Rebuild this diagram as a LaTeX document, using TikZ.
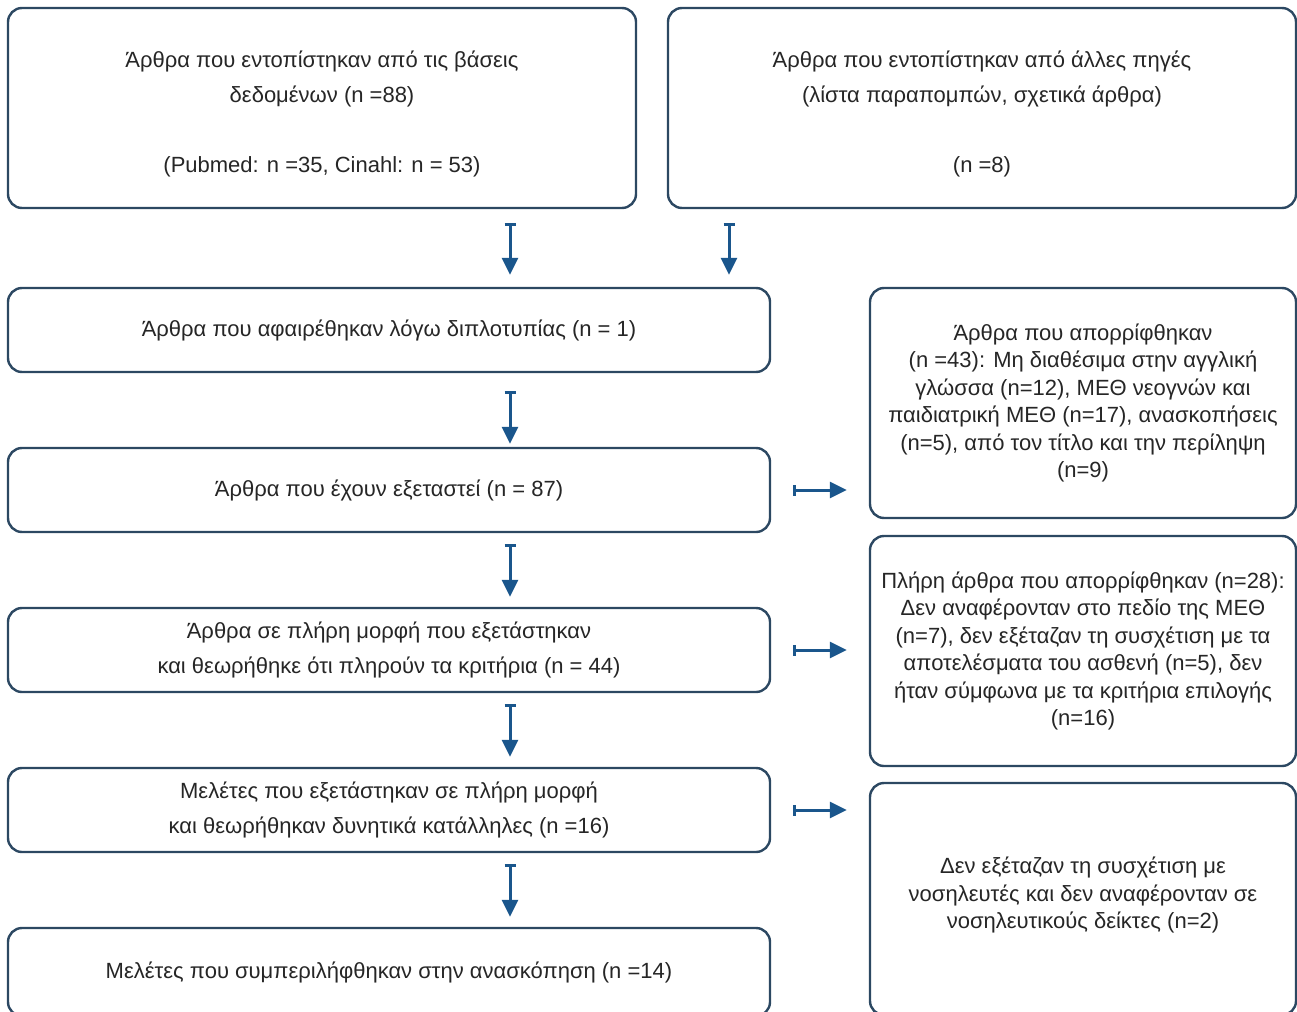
\documentclass[tikz,border=0pt]{standalone}
\usepackage{fontspec}
\setmainfont{Liberation Sans}
\usetikzlibrary{arrows.meta}
\definecolor{boxline}{RGB}{44,72,98}
\definecolor{arrowc}{RGB}{26,86,140}
\begin{document}
\begin{tikzpicture}[x=1pt,y=-1pt,
  box/.style={draw=boxline, line width=2.4pt, rounded corners=14pt, fill=white, inner sep=0pt, align=center, text=black!85},
  big/.style={font=\fontsize{22}{35}\selectfont},
  small/.style={font=\fontsize{22}{27.5}\selectfont},
  flow/.style={draw=arrowc, line width=3pt, {Bar[width=11pt,line width=2.4pt]}-{Triangle[width=16pt,length=17pt]}}]
\useasboundingbox (0,0) rectangle (1297,1011);
\clip (0,0) rectangle (1297,1011);
\coordinate (col1) at (510,0);
\coordinate (col2) at (729,0);
\node[box, big, minimum width=628, minimum height=200] (A) at (322,108)
  {Άρθρα που εντοπίστηκαν από τις βάσεις\\ δεδομένων (n =88)\\[35pt] (Pubmed: n =35, Cinahl: n = 53)\\[-43pt]};
\node[box, big, minimum width=628, minimum height=200] (B) at (982,108)
  {Άρθρα που εντοπίστηκαν από άλλες πηγές\\ (λίστα παραπομπών, σχετικά άρθρα)\\[35pt] (n =8)\\[-43pt]};
\node[box, big, minimum width=762, minimum height=84] (C) at (389,330)
  {Άρθρα που αφαιρέθηκαν λόγω διπλοτυπίας (n = 1)};
\node[box, big, minimum width=762, minimum height=84] (D) at (389,490)
  {Άρθρα που έχουν εξεταστεί (n = 87)};
\node[box, big, minimum width=762, minimum height=84] (F) at (389,650)
  {Άρθρα σε πλήρη μορφή που εξετάστηκαν\\ και θεωρήθηκε ότι πληρούν τα κριτήρια (n = 44)};
\node[box, big, minimum width=762, minimum height=84] (H) at (389,810)
  {Μελέτες που εξετάστηκαν σε πλήρη μορφή\\ και θεωρήθηκαν δυνητικά κατάλληλες (n =16)};
\node[box, big, minimum width=762, minimum height=88] (J) at (389,972)
  {Μελέτες που συμπεριλήφθηκαν στην ανασκόπηση (n =14)};
\node[box, small, minimum width=426, minimum height=230] (E) at (1083,403)
  {Άρθρα που απορρίφθηκαν\\ (n =43): Μη διαθέσιμα στην  αγγλική\\ γλώσσα (n=12), ΜΕΘ νεογνών και\\ παιδιατρική ΜΕΘ (n=17), ανασκοπήσεις\\ (n=5), από τον τίτλο και την περίληψη\\ (n=9)};
\node[box, small, minimum width=426, minimum height=230] (G) at (1083,651)
  {Πλήρη άρθρα που απορρίφθηκαν (n=28):\\ Δεν αναφέρονταν στο πεδίο της ΜΕΘ\\ (n=7), δεν εξέταζαν τη συσχέτιση με τα\\ αποτελέσματα του ασθενή (n=5), δεν\\ ήταν σύμφωνα με τα κριτήρια επιλογής\\ (n=16)};
\node[box, small, minimum width=426, minimum height=232] (I) at (1083,899)
  {Δεν εξέταζαν τη συσχέτιση με\\ νοσηλευτές και δεν αναφέρονταν σε\\ νοσηλευτικούς δείκτες (n=2)\\[-15pt]};
\draw[flow, shorten <=14, shorten >=12] (A.south -| col1) -- (C.north -| col1);
\draw[flow, shorten <=14, shorten >=12] (B.south -| col2) -- (C.north -| col2);
\draw[flow, shorten <=18, shorten >=3] (C.south -| col1) -- (D.north -| col1);
\draw[flow, shorten <=11, shorten >=10] (D.south -| col1) -- (F.north -| col1);
\draw[flow, shorten <=11, shorten >=10] (F.south -| col1) -- (H.north -| col1);
\draw[flow, shorten <=11, shorten >=10] (H.south -| col1) -- (J.north -| col1);
\draw[flow, shorten <=22, shorten >=22] (D.east) -- (D.east -| E.west);
\draw[flow, shorten <=22, shorten >=22] (F.east) -- (F.east -| G.west);
\draw[flow, shorten <=22, shorten >=22] (H.east) -- (H.east -| I.west);
\end{tikzpicture}
\end{document}
